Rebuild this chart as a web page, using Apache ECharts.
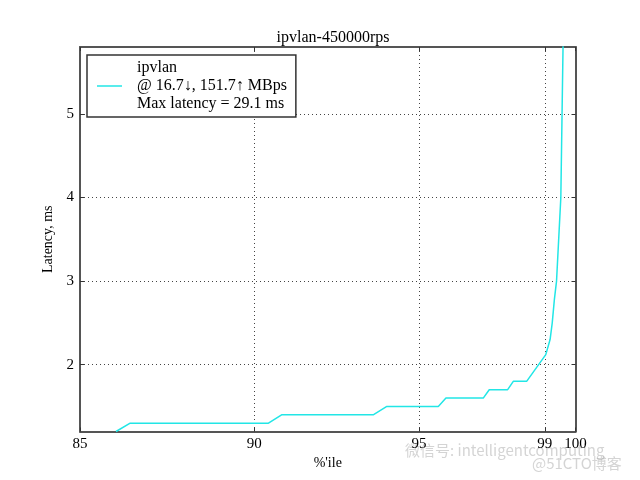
<!DOCTYPE html>
<html>
<head>
<meta charset="utf-8">
<script src="https://cdn.jsdelivr.net/npm/echarts@6/dist/echarts.min.js"></script>
<style>html,body{margin:0;padding:0;background:#fff;}#c{width:640px;height:480px;}</style>
</head>
<body>
<div id="c"></div>
<script>
// ---- data ----
const percentiles = [86.01, 86.41, 90.42, 90.81, 93.58, 94.00, 95.60, 95.84, 97.02, 97.21, 97.80, 97.98, 98.41, 99.03, 99.17, 99.24, 99.31, 99.38, 99.52, 99.56, 99.62, 100];
const latency     = [1.2,   1.3,   1.3,   1.4,   1.4,   1.5,   1.5,   1.6,   1.6,   1.7,   1.7,   1.8,   1.8,   2.12,  2.3,   2.5,   2.78,  3.0,   4.0,   5.0,   6.5,   29.1];
const xTickLabels = [85, 90, 95, 99, 100];
const yTickLabels = [2, 3, 4, 5];
const seriesName = 'ipvlan';
const legendLines = ['ipvlan', '@ 16.7\u2193, 151.7\u2191 MBps', 'Max latency = 29.1 ms'];
const titleText = 'ipvlan-450000rps';

// percentile axis is logarithmic in p
const tx = p => Math.log(p);
const xTicks = xTickLabels.map(tx);
const seriesData = percentiles.map((p, i) => [tx(p), latency[i]]);

const FONT = 'Liberation Serif';
const frameColor = '#555';
const lineColor = '#22e6e6';
const gridLine = { show: true, lineStyle: { color: '#444', width: 1, type: [1, 3] } };

const chart = echarts.init(document.getElementById('c'), null, { renderer: 'canvas' });
chart.setOption({
  backgroundColor: '#fff',
  animation: false,
  title: {
    text: titleText,
    left: 328, top: 25, textAlign: 'center',
    textStyle: { fontFamily: FONT, fontSize: 16, fontWeight: 'normal', color: '#000' }
  },
  legend: {
    data: [{ name: seriesName, icon: 'rect' }],
    left: 87, top: 55,
    orient: 'vertical',
    padding: [4, 9, 4, 10],
    borderColor: '#333', borderWidth: 1.5, borderRadius: 0,
    backgroundColor: '#fff',
    itemWidth: 25, itemHeight: 1.5,
    itemStyle: { color: lineColor, borderWidth: 0 },
    formatter: () => legendLines.join('\n'),
    textStyle: { fontFamily: FONT, fontSize: 16, lineHeight: 18, color: '#000', padding: [0, 0, 0, 10] }
  },
  grid: { left: 80, right: 64.5, top: 47, bottom: 48.5, outerBoundsMode: 'none', containLabel: false },
  xAxis: [{
    type: 'value', min: tx(85), max: tx(100),
    name: "%'ile", nameLocation: 'middle', nameGap: 22,
    nameTextStyle: { fontFamily: FONT, fontSize: 14, color: '#000' },
    axisLine: { show: true, onZero: false, lineStyle: { color: frameColor, width: 2 } },
    axisTick: { show: true, inside: true, length: 4, customValues: xTicks, lineStyle: { color: '#333' } },
    axisLabel: { customValues: xTicks, margin: 5, fontFamily: FONT, fontSize: 15, color: '#000',
                 formatter: v => String(Math.round(Math.exp(v))) },
    splitLine: gridLine
  }, {
    type: 'value', position: 'top', min: tx(85), max: tx(100),
    axisLine: { show: true, onZero: false, lineStyle: { color: frameColor, width: 2 } },
    axisTick: { show: true, inside: true, length: 4, customValues: xTicks, lineStyle: { color: '#333' } },
    axisLabel: { show: false },
    splitLine: { show: false }
  }],
  yAxis: [{
    type: 'value', min: 1.2, max: 5.8,
    name: 'Latency, ms', nameLocation: 'middle', nameGap: 18, nameRotate: 90,
    nameTextStyle: { fontFamily: FONT, fontSize: 14, color: '#000' },
    axisLine: { show: true, onZero: false, lineStyle: { color: frameColor, width: 2 } },
    axisTick: { show: true, inside: true, length: 4, customValues: yTickLabels, lineStyle: { color: '#333' } },
    axisLabel: { customValues: yTickLabels, margin: 6, fontFamily: FONT, fontSize: 15, color: '#000' },
    splitLine: gridLine
  }, {
    type: 'value', position: 'right', min: 1.2, max: 5.8,
    axisLine: { show: true, onZero: false, lineStyle: { color: frameColor, width: 2 } },
    axisTick: { show: true, inside: true, length: 4, customValues: yTickLabels, lineStyle: { color: '#333' } },
    axisLabel: { show: false },
    splitLine: { show: false }
  }],
  series: [{
    name: seriesName,
    type: 'line',
    xAxisIndex: 0, yAxisIndex: 0,
    data: seriesData,
    symbol: 'none',
    clip: true,
    lineStyle: { color: lineColor, width: 1.5 },
    itemStyle: { color: lineColor }
  }],
  graphic: [
    { type: 'text', left: 405, top: 443, silent: true,
      style: { text: '微信号: intelligentcomputing', fontFamily: 'Noto Sans CJK SC', fontSize: 15, fill: 'rgba(160,160,160,0.45)' } },
    { type: 'text', left: 532, top: 456, silent: true,
      style: { text: '@51CTO博客', fontFamily: 'Noto Sans CJK SC', fontSize: 15, fill: 'rgba(160,160,160,0.45)' } }
  ]
});
</script>
</body>
</html>
